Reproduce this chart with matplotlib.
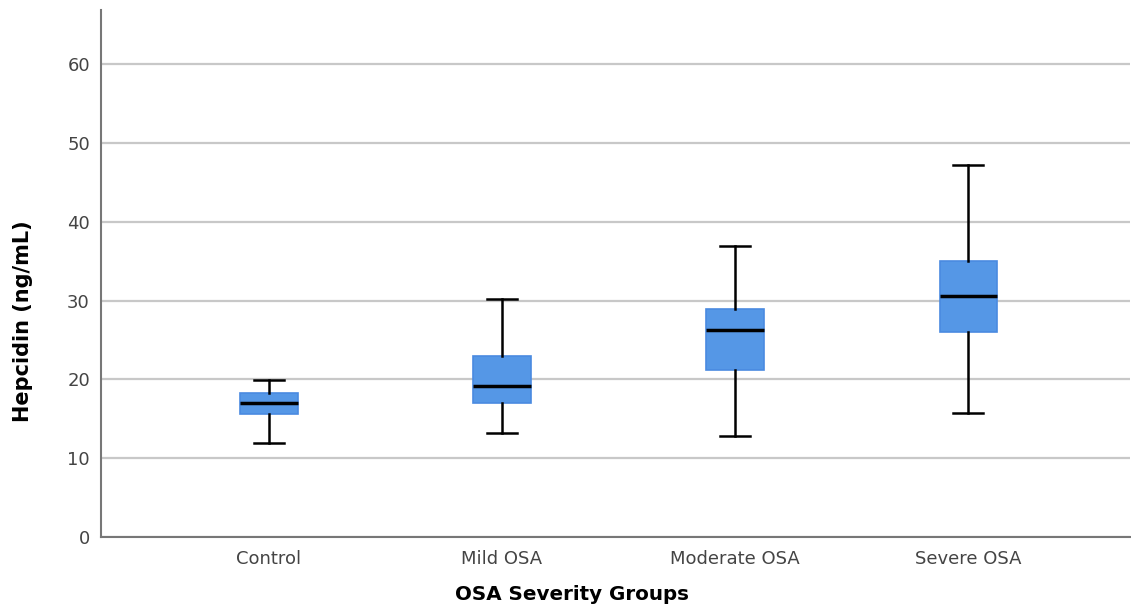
"""Hepcidin boxplots by OSA severity group."""

import matplotlib
matplotlib.use("Agg")
import matplotlib.pyplot as plt

groups = ["Control", "Mild OSA", "Moderate OSA", "Severe OSA"]
whisker_low = [11.9, 13.2, 12.8, 15.7]
q1 = [15.6, 17.0, 21.2, 26.0]
median = [17.0, 19.2, 26.3, 30.6]
q3 = [18.3, 23.0, 29.0, 35.1]
whisker_high = [19.9, 30.2, 36.9, 47.2]


def main() -> int:
    stats = []
    for i, name in enumerate(groups):
        stats.append({
            "label": name,
            "whislo": whisker_low[i],
            "q1": q1[i],
            "med": median[i],
            "q3": q3[i],
            "whishi": whisker_high[i],
            "fliers": [],
        })

    fig = plt.figure(figsize=(11.31, 6.05), dpi=100)
    ax = fig.add_axes([101 / 1131, 1 - 537 / 605, 1029 / 1131, 527 / 605])

    ax.bxp(
        stats,
        positions=[1, 2, 3, 4],
        widths=0.245,
        patch_artist=True,
        showfliers=False,
        boxprops=dict(facecolor="#5597e6", edgecolor="#4a8ae0", linewidth=1.2),
        medianprops=dict(color="black", linewidth=2.5),
        whiskerprops=dict(color="black", linewidth=1.8),
        capprops=dict(color="black", linewidth=1.8),
        capwidths=0.13,
        zorder=3,
    )

    ax.set_xlim(0.279, 4.695)
    ax.set_ylim(0, 66.9)
    ax.set_yticks([0, 10, 20, 30, 40, 50, 60])
    ax.yaxis.grid(True, color="#c8c8c8", linewidth=1.6, zorder=0)
    ax.set_axisbelow(True)
    ax.tick_params(axis="both", length=0, labelsize=13)
    ax.tick_params(axis="x", pad=9)
    ax.tick_params(axis="y", pad=8)
    for lab in ax.get_xticklabels() + ax.get_yticklabels():
        lab.set_color("#444444")

    for side in ("top", "right"):
        ax.spines[side].set_visible(False)
    for side in ("left", "bottom"):
        ax.spines[side].set_color("#777777")
        ax.spines[side].set_linewidth(1.5)

    # axis titles sit off-centre in the original, so place them by hand
    fig.text(572 / 1131, 1 - 595 / 605, "OSA Severity Groups", fontsize=14.3,
             fontweight="bold", ha="center", va="center")
    fig.text(23 / 1131, 1 - 321 / 605, "Hepcidin (ng/mL)", fontsize=15,
             fontweight="bold", ha="center", va="center", rotation=90)

    fig.savefig("out.png", dpi=100)
    plt.close(fig)
    return 0


if __name__ == "__main__":
    raise SystemExit(main())
